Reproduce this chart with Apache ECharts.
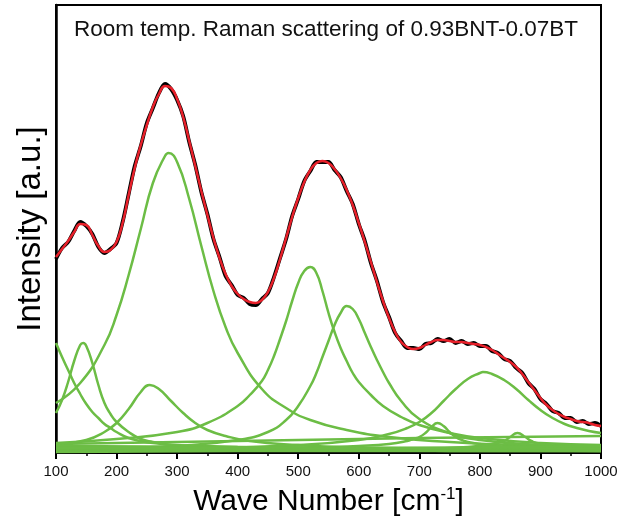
<!DOCTYPE html>
<html lang="en">
<head>
    <meta charset="UTF-8">
    <script src="https://cdn.jsdelivr.net/npm/echarts@6/dist/echarts.min.js"></script>
    <style>
        html, body {margin:0;padding:0;background:#fff}
        #chart {width:630px;height:524px}
    </style>
    <title>Raman</title>
</head>
<body>
<div id="chart"></div>
<script type="text/javascript">
    // measured spectrum + cumulative fit, sampled every 10 cm-1
    var waveNumbers = [100,110,120,130,140,150,160,170,180,190,200,210,220,230,240,250,260,270,280,290,
        300,310,320,330,340,350,360,370,380,390,400,410,420,430,440,450,460,470,480,490,
        500,510,520,530,540,550,560,570,580,590,600,610,620,630,640,650,660,670,680,690,
        700,710,720,730,740,750,760,770,780,790,800,810,820,830,840,850,860,870,880,890,
        900,910,920,930,940,950,960,970,980,990,1000];
    var measured = [194,205,211,222,231,227,219,206,200,204,210,231,259,287,307,330,345,360,369,364,
        353,337,311,288,261,239,214,196,177,168,158,155,149,148,154,160,176,195,214,237,
        254,272,282,291,291,291,283,276,262,249,229,212,190,172,151,136,120,112,105,105,
        104,109,110,114,112,114,110,112,109,110,107,107,102,100,94,92,85,80,70,64,
        54,49,42,40,35,35,31,32,29,30,27];
    var fitted = [196,204,212,221,229,228,218,207,201,203,211,230,258,285,308,328,346,359,367,365,
        354,336,312,287,262,238,215,195,179,167,159,154,151,150,153,161,175,194,215,236,
        255,271,283,290,292,290,284,275,263,248,230,211,191,171,152,135,121,111,106,104,
        105,108,111,113,113,112,111,111,110,109,108,106,103,99,95,91,86,79,71,63,
        55,48,43,39,36,34,32,31,30,28,27];

    // fitted peak components
    var peak1X = [100,110,120,130,140,150,160,170,180,190,200,220,240,260,300,350,400,500,600,700,800,900,1000];
    var peak1Y = [110,96,83,70,59,49,41,35,29,25,21,15,12,10,8,7,6,5,4,4,3,3,3];
    var peak2X = [100,110,120,130,140,145,150,160,170,180,190,200,220,240,260,300,350,400,500,600,800,1000];
    var peak2Y = [40,53,71,92,108,110,107,90,68,50,39,31,21,14,11,7,5,4,3,3,2,2];
    var peak3X = [100,150,180,200,220,240,255,270,290,310,330,350,380,420,500,600,800,1000];
    var peak3Y = [8,13,21,30,44,61,68,64,52,40,30,23,17,12,8,5,3,2];
    var peak4X = [100,140,180,200,220,240,260,280,286,300,320,340,360,380,400,440,480,520,580,650,750,850,1000];
    var peak4Y = [50,70,108,138,178,224,270,297,300,291,254,207,162,126,100,64,45,33,23,16,11,8,6];
    var peak5X = [100,200,300,350,400,420,440,450,460,470,480,490,500,510,520,530,540,550,560,570,580,590,600,620,640,670,700,750,800,900,1000];
    var peak5Y = [10,14,21,30,47,58,72,83,97,114,132,152,170,182,186,180,162,140,121,105,92,80,71,58,47,36,28,20,15,10,8];
    var peak6X = [100,200,300,400,450,480,500,520,530,540,550,560,570,580,590,600,610,620,630,640,650,670,700,750,800,900,1000];
    var peak6Y = [4,5,7,13,21,33,47,67,80,96,112,128,140,147,144,134,120,106,93,81,70,52,34,20,13,8,6];
    var peak7X = [100,400,550,600,650,680,690,700,710,720,730,740,750,760,770,780,800,850,900,1000];
    var peak7Y = [3,4,6,7,9,12,14,16,20,26,30,27,21,16,13,11,9,6,5,4];
    var peak8X = [100,500,700,780,820,840,850,862,875,885,900,950,1000];
    var peak8Y = [2,3,4,6,9,12,16,20,16,12,9,6,5];
    var peak9X = [100,300,500,600,650,680,700,720,740,760,780,800,805,820,840,860,880,900,920,940,960,980,1000];
    var peak9Y = [2,4,8,13,19,25,31,40,52,64,74,80,81,79,73,64,53,43,35,29,25,22,20];
    var peak10X = [100,300,500,700,850,1000];
    var peak10Y = [9,11,13,15,16,17];
    var flat1X = [100,400,700,1000];
    var flat1Y = [7,6,5,4];
    var flat2X = [100,400,700,1000];
    var flat2Y = [5,5,5,5];
    var flat3X = [100,400,700,1000];
    var flat3Y = [2,3,5,7];
    var flat4X = [100,400,700,1000];
    var flat4Y = [1,2,2,2];

    var xTicks = [100,200,300,400,500,600,700,800,900,1000];

    function pairs(xs, ys) {
        var out = [];
        for (var i = 0; i < xs.length; i++) out.push([xs[i], ys[i]]);
        return out;
    }

    var green = '#6cbd45';
    var components = [
        [peak1X,peak1Y],[peak2X,peak2Y],[peak3X,peak3Y],[peak4X,peak4Y],[peak5X,peak5Y],
        [peak6X,peak6Y],[peak7X,peak7Y],[peak8X,peak8Y],[peak9X,peak9Y],[peak10X,peak10Y],
        [flat1X,flat1Y],[flat2X,flat2Y],[flat3X,flat3Y],[flat4X,flat4Y]
    ];
    var series = [];
    components.forEach(function (c) {
        series.push({
            type: 'line', data: pairs(c[0], c[1]), smooth: true, symbol: 'none',
            lineStyle: {color: green, width: 2.5}, z: 2, silent: true
        });
    });
    series.push({
        type: 'line', data: pairs(waveNumbers, measured), smooth: 0.3, symbol: 'none',
        lineStyle: {color: '#000', width: 3.8}, z: 3, silent: true
    });
    series.push({
        type: 'line', data: pairs(waveNumbers, fitted), smooth: true, symbol: 'none',
        lineStyle: {color: '#e8202a', width: 2.5}, z: 4, silent: true
    });

    var ec = echarts.init(document.getElementById('chart'), null, {renderer: 'canvas'});
    var option = {
        animation: false,
        backgroundColor: '#fff',
        textStyle: {fontFamily: 'Liberation Sans'},
        title: {
            text: 'Room temp. Raman scattering of 0.93BNT-0.07BT',
            left: 321, top: 13, textAlign: 'center',
            textStyle: {fontFamily: 'Liberation Sans', fontSize: 22.5, fontWeight: 'normal', color: '#111'}
        },
        grid: {left: 56, right: 29, top: 5, bottom: 71, show: true, borderColor: '#000', borderWidth: 2, backgroundColor: 'transparent'},
        xAxis: {
            type: 'value', min: 100, max: 1000, interval: 100,
            name: 'Wave Number [cm{sup|-1}]', nameLocation: 'middle', nameGap: 33,
            nameTextStyle: {fontFamily: 'Liberation Sans', fontSize: 30, color: '#000',
                rich: {sup: {fontSize: 17, verticalAlign: 'top', padding: [0, 0, 14, 0], color: '#000'}}},
            axisLine: {onZero: false, lineStyle: {color: '#000', width: 2}},
            axisTick: {show: true, inside: false, length: 6, lineStyle: {width: 2, color: '#000'}},
            minorTick: {show: true, splitNumber: 2, length: 3, lineStyle: {width: 1.5, color: '#000'}},
            axisLabel: {fontSize: 15, color: '#111', margin: 11,
                formatter: function (v) { return xTicks.indexOf(v) >= 0 ? String(v) : ''; }},
            splitLine: {show: false}
        },
        yAxis: {
            type: 'value', min: 0, max: 448,
            name: 'Intensity [a.u.]', nameLocation: 'middle', nameGap: 9,
            nameTextStyle: {fontFamily: 'Liberation Sans', fontSize: 33, color: '#000'},
            axisLine: {show: true, lineStyle: {color: '#000', width: 2.5}},
            axisTick: {show: false}, axisLabel: {show: false}, splitLine: {show: false}
        },
        series: series
    };
    ec.setOption(option);
</script>
</body>
</html>
